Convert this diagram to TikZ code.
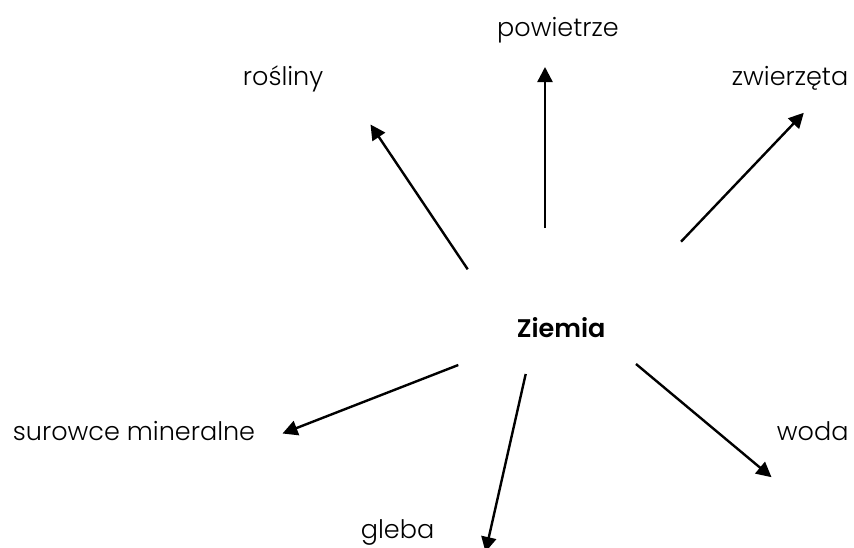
\documentclass[tikz,border=0pt]{standalone}
\usepackage{fontspec}
\setmainfont{Poppins}[UprightFont={* Light},BoldFont={* SemiBold}]
\usetikzlibrary{arrows.meta}
\begin{document}
\begin{tikzpicture}[x=1pt,y=-1pt,
  lbl/.style={inner sep=0pt,anchor=base west,font=\fontsize{25.5}{30}\selectfont},
  arr/.style={line width=2.4pt,-{Triangle[length=15pt,width=15pt]}}]
\useasboundingbox (0,0) rectangle (854,547);
% labels
\node[lbl] (pow) at (497,36.7) {powietrze};
\node[lbl] (ros) at (242.7,85) {rośliny};
\node[lbl] (zw) at (731.7,85) {zwierzęta};
\node[lbl,font=\fontsize{25.5}{30}\selectfont\bfseries] (zi) at (516.7,337.7) {Ziemia};
\node[lbl] (sur) at (12.7,440.7) {surowce mineralne};
\node[lbl] (wo) at (776.7,440) {woda};
\node[lbl] (gl) at (360.7,538.3) {gleba};
% arrow ends
\coordinate (s1) at (545,228);   \coordinate (t1) at (545,67);
\coordinate (s2) at (467.7,269.3); \coordinate (t2) at (370.5,124.5);
\coordinate (s3) at (681,241.7); \coordinate (t3) at (803.8,112.8);
\coordinate (s4) at (458.3,365); \coordinate (t4) at (282.5,433.5);
\coordinate (s5) at (525.7,374); \coordinate (t5) at (485.5,552);
\coordinate (s6) at (636,364);   \coordinate (t6) at (771.5,477.2);
\foreach \i in {1,...,6}{\draw[arr] (s\i) -- (t\i);}
\end{tikzpicture}
\end{document}
